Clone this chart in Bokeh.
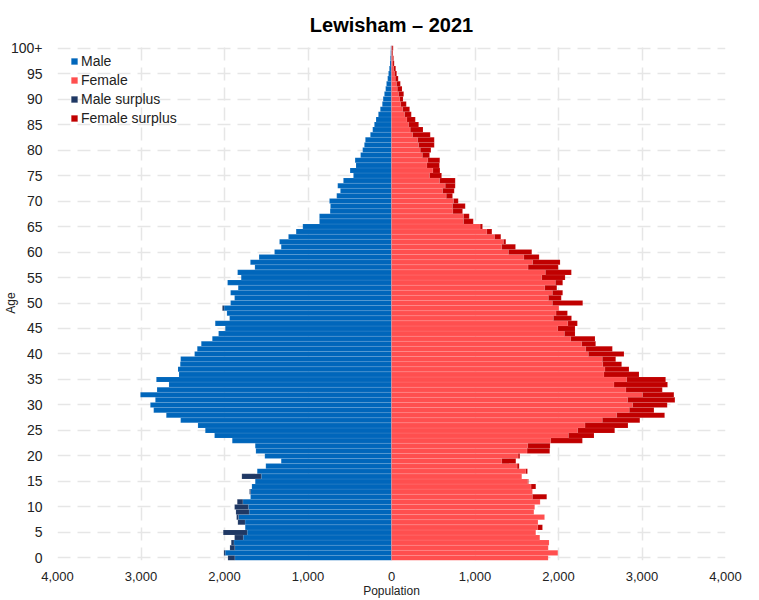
from bokeh.plotting import figure
from bokeh.models import Range1d, FixedTicker, ColumnDataSource, Legend, LegendItem
from bokeh.embed import file_html
from bokeh.resources import INLINE

ages = list(range(101))

male = [1959, 2007, 1935, 1919, 1879, 2015, 1752, 1840, 1855, 1863,
        1879, 1847, 1688, 1700, 1672, 1632, 1792, 1608, 1505, 1321,
        1517, 1624, 1632, 1907, 2119, 2230, 2318, 2525, 2697, 2848,
        2888, 2828, 3007, 2808, 2665, 2816, 2545, 2557, 2530, 2525,
        2358, 2326, 2278, 2146, 2071, 1991, 2111, 1939, 1971, 2025,
        1927, 1879, 1927, 1836, 1963, 1800, 1843, 1636, 1690, 1586,
        1401, 1321, 1341, 1234, 1142, 1062, 863, 863, 735, 731,
        743, 656, 612, 644, 576, 456, 496, 425, 436, 370,
        345, 325, 313, 253, 225, 205, 185, 157, 134, 110,
        100, 85, 70, 60, 46, 36, 26, 18, 14, 10,
        8]

female = [1876, 1992, 1877, 1887, 1776, 1728, 1808, 1754, 1833, 1705,
          1715, 1780, 1859, 1688, 1728, 1640, 1560, 1628, 1529, 1489,
          1537, 1895, 1899, 2286, 2425, 2673, 2832, 2974, 3271, 3143,
          3302, 3394, 3382, 3243, 3306, 3283, 2964, 2844, 2756, 2685,
          2784, 2645, 2445, 2437, 2198, 2198, 2226, 2156, 2107, 2005,
          2290, 2033, 2050, 1980, 2050, 2079, 2154, 1997, 2019, 1768,
          1680, 1485, 1369, 1309, 1202, 1090, 979, 931, 851, 883,
          799, 731, 751, 763, 763, 600, 580, 574, 578, 456,
          472, 512, 512, 464, 377, 325, 285, 237, 217, 177,
          138, 146, 126, 106, 80, 62, 50, 32, 25, 18,
          20]

x_ticks = [-4000, -3000, -2000, -1000, 0, 1000, 2000, 3000, 4000]
x_tick_labels = ["4,000", "3,000", "2,000", "1,000", "0", "1,000", "2,000", "3,000", "4,000"]
y_ticks = list(range(0, 101, 5))
y_tick_labels = [str(a) for a in y_ticks[:-1]] + ["100+"]

MALE_C = "#0066bb"
FEMALE_C = "#ff4f4f"
MALE_SUR_C = "#1f3864"
FEMALE_SUR_C = "#c00000"

common = [min(m, f) for m, f in zip(male, female)]
base = ColumnDataSource(dict(
    age=ages,
    mleft=[-c for c in common],
    fright=common,
))
ms_idx = [i for i in ages if male[i] > female[i]]
fs_idx = [i for i in ages if female[i] > male[i]]
msrc = ColumnDataSource(dict(
    age=[ages[i] for i in ms_idx],
    left=[-male[i] for i in ms_idx],
    right=[-female[i] for i in ms_idx],
))
fsrc = ColumnDataSource(dict(
    age=[ages[i] for i in fs_idx],
    left=[male[i] for i in fs_idx],
    right=[female[i] for i in fs_idx],
))

FONT = "Liberation Sans"

p = figure(width=759, height=600, output_backend="svg", toolbar_location=None,
           x_range=Range1d(-4000, 4000), y_range=Range1d(-0.5, 100.5),
           min_border_left=56, min_border_right=34, min_border_top=45,
           min_border_bottom=39)
p.outline_line_color = None
p.background_fill_color = "white"

p.title.text = "Lewisham \u2013 2021"
p.title.align = "center"
p.title.text_font = FONT
p.title.text_font_size = "20px"
p.title.text_font_style = "bold"
p.title.text_color = "black"
p.title.standoff = 19

# grid
p.xgrid.ticker = FixedTicker(ticks=x_ticks)
p.ygrid.ticker = FixedTicker(ticks=y_ticks)
for g in (p.xgrid, p.ygrid):
    g.grid_line_color = "#e6e6e6"
    g.grid_line_width = 1.5
    g.grid_line_dash = "13 7"

# axes
p.xaxis.ticker = FixedTicker(ticks=x_ticks)
p.xaxis.major_label_overrides = {t: l for t, l in zip(x_ticks, x_tick_labels)}
p.yaxis.ticker = FixedTicker(ticks=y_ticks)
p.yaxis.major_label_overrides = {t: l for t, l in zip(y_ticks, y_tick_labels)}
p.xaxis.axis_label = "Population"
p.yaxis.axis_label = "Age"
for ax in (p.xaxis, p.yaxis):
    ax.axis_line_color = None
    ax.major_tick_line_color = None
    ax.minor_tick_line_color = None
    ax.major_tick_out = 0
    ax.major_tick_in = 0
    ax.minor_tick_out = 0
    ax.minor_tick_in = 0
    ax.major_label_text_font = FONT
    ax.major_label_text_color = "#222222"
    ax.axis_label_text_font = FONT
    ax.axis_label_text_font_style = "normal"
    ax.axis_label_text_font_size = "12px"
    ax.axis_label_text_color = "#222222"
p.xaxis.major_label_text_font_size = "13px"
p.yaxis.major_label_text_font_size = "14px"
p.xaxis.major_label_standoff = 11
p.yaxis.major_label_standoff = 15
p.xaxis.axis_label_standoff = 0
p.yaxis.axis_label_standoff = -10

kw = dict(height=1.0, line_color="white", line_alpha=0.18, line_width=0.5)
r_m = p.hbar(y="age", left="mleft", right=0, source=base, fill_color=MALE_C, **kw)
r_f = p.hbar(y="age", left=0, right="fright", source=base, fill_color=FEMALE_C, **kw)
r_ms = p.hbar(y="age", left="left", right="right", source=msrc, fill_color=MALE_SUR_C, **kw)
r_fs = p.hbar(y="age", left="left", right="right", source=fsrc, fill_color=FEMALE_SUR_C, **kw)

legend = Legend(items=[
    LegendItem(label="Male", renderers=[r_m]),
    LegendItem(label="Female", renderers=[r_f]),
    LegendItem(label="Male surplus", renderers=[r_ms]),
    LegendItem(label="Female surplus", renderers=[r_fs]),
], location=(13, 433))
legend.glyph_width = 8
legend.glyph_height = 8
legend.label_height = 19
legend.spacing = 0
legend.padding = 0
legend.margin = 0
legend.label_standoff = 3
legend.label_text_font = FONT
legend.label_text_font_size = "14px"
legend.label_text_color = "#222222"
legend.background_fill_alpha = 0
legend.border_line_alpha = 0
p.add_layout(legend)

open("out.html", "w").write(file_html(p, INLINE))
